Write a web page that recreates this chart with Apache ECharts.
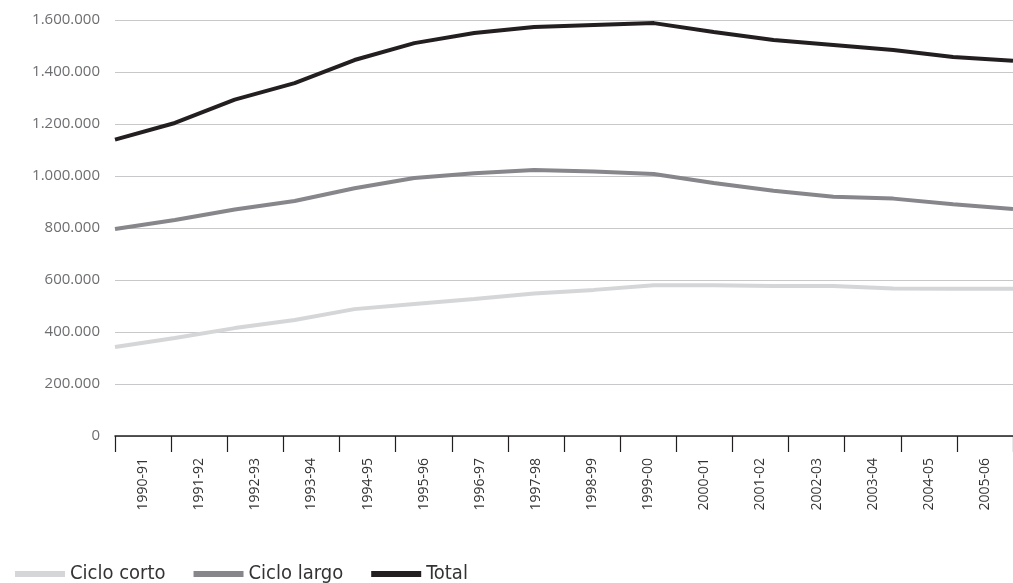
<!DOCTYPE html>
<html>
<head>
<meta charset="utf-8">
<script src="https://cdn.jsdelivr.net/npm/echarts@6/dist/echarts.min.js"></script>
<style>
html,body{margin:0;padding:0;background:#fff;}
#c{width:1013px;height:583px;}
</style>
</head>
<body>
<div id="c"></div>
<script>
var categories = ['1990-91','1991-92','1992-93','1993-94','1994-95','1995-96','1996-97','1997-98','1998-99','1999-00','2000-01','2001-02','2002-03','2003-04','2004-05','2005-06'];
var cicloCorto = [342000,377000,415000,446000,488000,508000,527000,548000,562000,580000,580000,577000,577000,567000,566000,566000];
var cicloLargo = [796000,831000,871000,904000,953000,992000,1011000,1023000,1017000,1008000,973000,943000,920000,913000,891000,873000];
var total = [1140000,1204000,1294000,1357000,1446000,1511000,1550000,1573000,1581000,1588000,1554000,1523000,1504000,1485000,1458000,1443000];
var yTicks = {min:0, max:1600000, interval:200000};

function fmt(v){ return String(v).replace(/\B(?=(\d{3})+(?!\d))/g,'.'); }

var chart = echarts.init(document.getElementById('c'));
chart.setOption({
  animation:false,
  backgroundColor:'#fff',
  grid:{left:115,right:0,top:20,bottom:147,containLabel:false},
  legend:{
    left:10, top:559, padding:5, icon:'rect', itemWidth:50, itemHeight:6, itemGap:28, itemStyle:{borderWidth:0},
    textStyle:{fontFamily:'"Liberation Sans Narrow","DejaVu Sans Condensed","Liberation Sans",sans-serif',fontSize:20,color:'#333'},
    data:['Ciclo corto','Ciclo largo','Total']
  },
  xAxis:[{
    type:'category', data:categories, boundaryGap:true,
    axisLine:{lineStyle:{color:'#231f20',width:1.5}},
    axisTick:{show:true,interval:0,length:16,lineStyle:{color:'#231f20',width:1.2}},
    axisLabel:{interval:0,rotate:90,margin:22,color:'#333',fontFamily:'"Open Sans",sans-serif',fontSize:14},
    splitLine:{show:false}
  },{
    type:'category', data:categories, boundaryGap:false, show:false, position:'bottom'
  }],
  yAxis:{
    type:'value', min:yTicks.min, max:yTicks.max, interval:yTicks.interval,
    axisLine:{show:false}, axisTick:{show:false},
    axisLabel:{margin:15,color:'#6d6e71',fontFamily:'"Open Sans",sans-serif',fontSize:15,formatter:function(v){return fmt(v);}},
    splitLine:{lineStyle:{color:'#c8c8ca',width:1}}
  },
  series:[
    {name:'Ciclo corto',type:'line',xAxisIndex:1,data:cicloCorto,symbol:'none',lineStyle:{color:'#d5d6d8',width:4},itemStyle:{color:'#d5d6d8'}},
    {name:'Ciclo largo',type:'line',xAxisIndex:1,data:cicloLargo,symbol:'none',lineStyle:{color:'#87868b',width:4},itemStyle:{color:'#87868b'}},
    {name:'Total',type:'line',xAxisIndex:1,data:total,symbol:'none',lineStyle:{color:'#231f20',width:4},itemStyle:{color:'#231f20'}}
  ]
});
</script>
</body>
</html>
